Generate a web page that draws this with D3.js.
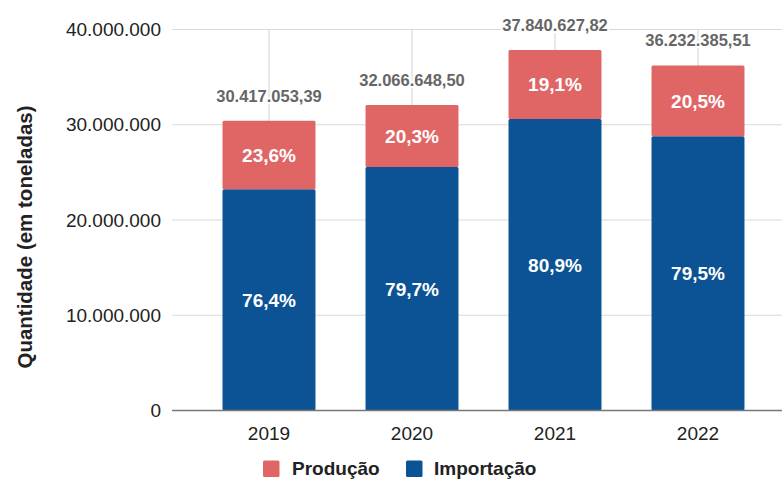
<!DOCTYPE html>
<html>
<head>
<meta charset="utf-8">
<script src="https://cdn.jsdelivr.net/npm/d3@7"></script>
<style>
  body { margin: 0; background: #fff; }
  svg { display: block; font-family: "Liberation Sans", Arial, sans-serif; }
</style>
</head>
<body>
<div id="chart"></div>
<script>
// data
const years = ["2019", "2020", "2021", "2022"];
const producao = [7178424, 6509530, 7227560, 7427639];
const importacao = [23238629, 25557118, 30613068, 28804747];
const totalLabels = ["30.417.053,39", "32.066.648,50", "37.840.627,82", "36.232.385,51"];
const pctProducao = ["23,6%", "20,3%", "19,1%", "20,5%"];
const pctImportacao = ["76,4%", "79,7%", "80,9%", "79,5%"];
const yTicks = [0, 10000000, 20000000, 30000000, 40000000];

const width = 782, height = 480;
const gridLeft = 172, gridRight = 782;

const svg = d3.select("#chart").append("svg")
    .attr("width", width)
    .attr("height", height);

let x = d3.scaleBand()
    .domain(years)
    .range([197.5, 769.5])
    .paddingInner(0.35)
    .paddingOuter(0.175);

let y = d3.scaleLinear()
    .domain([0, 40000000])
    .range([410.5, 29.5]);

let color = d3.scaleOrdinal()
    .domain(["Produção", "Importação"])
    .range(["#e06666", "#0b5394"]);

const fmt = d3.formatLocale({decimal: ",", thousands: ".", grouping: [3], currency: ["", ""]}).format(",.0f");

// horizontal gridlines
svg.append("g").selectAll("line")
    .data(yTicks.slice(1))
    .join("line")
    .attr("x1", gridLeft).attr("x2", gridRight)
    .attr("y1", d => y(d)).attr("y2", d => y(d))
    .attr("stroke", "#d9d9d9").attr("stroke-width", 1.2);

// vertical gridlines at category centers
svg.append("g").selectAll("line")
    .data(years)
    .join("line")
    .attr("x1", d => x(d) + x.bandwidth() / 2).attr("x2", d => x(d) + x.bandwidth() / 2)
    .attr("y1", y(40000000)).attr("y2", y(0))
    .attr("stroke", "#d9d9d9").attr("stroke-width", 1.2);

// y axis labels
let yAxis = d3.axisLeft(y).tickValues(yTicks).tickFormat(fmt).tickSize(0).tickPadding(0);
let yg = svg.append("g")
    .attr("transform", "translate(161,0)")
    .call(yAxis);
yg.select(".domain").remove();
yg.selectAll("text")
    .attr("font-family", "Liberation Sans, Arial, sans-serif")
    .attr("font-size", 19).attr("fill", "#222");

// stacked bars
let rows = years.map((yr, i) => ({year: yr, "Importação": importacao[i], "Produção": producao[i]}));
let stacked = d3.stack().keys(["Importação", "Produção"])(rows);

svg.append("g").selectAll("g")
    .data(stacked)
    .join("g")
    .attr("fill", d => color(d.key))
    .selectAll("rect")
    .data(d => d)
    .join("rect")
    .attr("x", d => x(d.data.year))
    .attr("y", d => y(d[1]))
    .attr("width", x.bandwidth())
    .attr("height", d => y(d[0]) - y(d[1]))
    .attr("rx", 1.5);

// baseline
svg.append("line")
    .attr("x1", gridLeft).attr("x2", gridRight)
    .attr("y1", y(0)).attr("y2", y(0))
    .attr("stroke", "#777").attr("stroke-width", 1.6);

// percentage labels inside segments
const pctLabels = [pctImportacao, pctProducao];
stacked.forEach((s, k) => {
    svg.append("g").selectAll("text")
        .data(s)
        .join("text")
        .attr("x", d => x(d.data.year) + x.bandwidth() / 2)
        .attr("y", d => (y(d[0]) + y(d[1])) / 2)
        .attr("dy", "0.36em")
        .attr("text-anchor", "middle")
        .attr("font-size", 19).attr("font-weight", "bold")
        .attr("fill", "#fff")
        .text((d, i) => pctLabels[k][i]);
});

// total labels above bars
svg.append("g").selectAll("text")
    .data(years)
    .join("text")
    .attr("x", d => x(d) + x.bandwidth() / 2)
    .attr("y", (d, i) => y(producao[i] + importacao[i]) - 19)
    .attr("text-anchor", "middle")
    .attr("font-size", 16.5).attr("font-weight", "bold")
    .attr("fill", "#666")
    .attr("stroke", "#fff").attr("stroke-width", 4)
    .attr("paint-order", "stroke")
    .text((d, i) => totalLabels[i]);

// x axis labels
let xAxis = d3.axisBottom(x).tickSize(0).tickPadding(0);
let xg = svg.append("g")
    .attr("transform", "translate(0,440)")
    .call(xAxis);
xg.select(".domain").remove();
xg.selectAll("text")
    .attr("dy", 0)
    .attr("font-family", "Liberation Sans, Arial, sans-serif")
    .attr("font-size", 19).attr("fill", "#222");

// y axis title
svg.append("text")
    .attr("transform", "translate(32,237) rotate(-90)")
    .attr("text-anchor", "middle")
    .attr("font-size", 20.5).attr("font-weight", "bold")
    .attr("fill", "#222")
    .text("Quantidade (em toneladas)");

// legend
const legendItems = [
    {key: "Produção", bx: 263, tx: 292},
    {key: "Importação", bx: 406, tx: 434}
];
let lg = svg.append("g");
lg.selectAll("rect")
    .data(legendItems)
    .join("rect")
    .attr("x", d => d.bx).attr("y", 460.5)
    .attr("width", 16.5).attr("height", 16.5)
    .attr("rx", 1.5)
    .attr("fill", d => color(d.key));
lg.selectAll("text")
    .data(legendItems)
    .join("text")
    .attr("x", d => d.tx).attr("y", 475)
    .attr("font-size", 19).attr("font-weight", "bold")
    .attr("fill", "#222")
    .text(d => d.key);
</script>
</body>
</html>
